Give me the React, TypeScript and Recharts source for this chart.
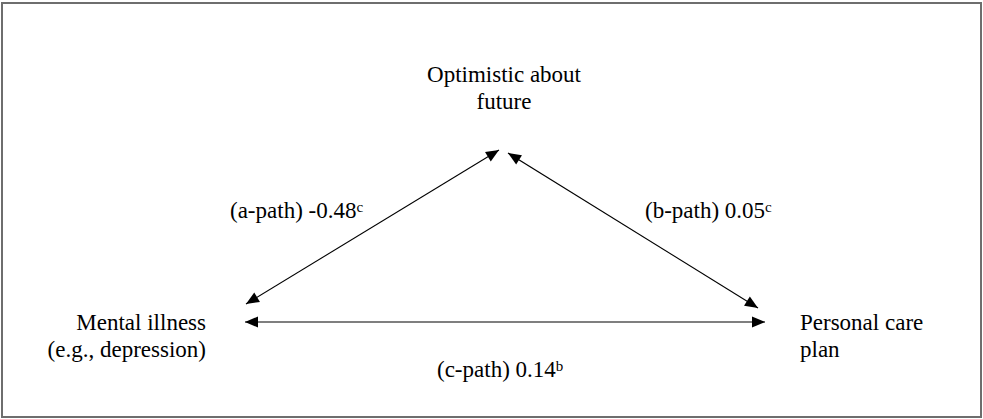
import { ScatterChart, Scatter, XAxis, YAxis, ReferenceArea } from 'recharts';

const W = 983;
const H = 419;

// node labels: top, left, right
const nodeLines = [
  ['Optimistic about', 'future'],
  ['Mental illness', '(e.g., depression)'],
  ['Personal care', 'plan'],
];
const pathNames = ['(a-path)', '(b-path)', '(c-path)'];
const pathCoef = ['-0.48', '0.05', '0.14'];
const pathSig = ['c', 'c', 'b'];

// layout, in plot units (x from left, y from top)
const nodeX = [504, 206, 800];
const nodeY = [82, 330, 330];
const nodeAnchor = ['middle', 'end', 'start'];
const pathLabelX = [230, 645, 437];
const pathLabelY = [218, 218, 377];
// arrow tips for each path: [x1, y1, x2, y2]
const pathEnds = [
  [499, 150, 246, 304],
  [508, 153, 758, 308],
  [245, 322, 765, 322],
];

const textStyle = { fontFamily: "'Liberation Serif', 'DejaVu Serif', serif" };

const nodeData = nodeLines.map((lines, i) => ({
  x: nodeX[i],
  y: nodeY[i],
  lines,
  anchor: nodeAnchor[i],
}));

const labelData = pathNames.map((name, i) => ({
  x: pathLabelX[i],
  y: pathLabelY[i],
  text: `${name} ${pathCoef[i]}`,
  sig: pathSig[i],
}));

const edgeData = pathEnds.map(([x1, y1, x2, y2]) => [
  { x: x1, y: y1, ox: x2, oy: y2 },
  { x: x2, y: y2, ox: x1, oy: y1 },
]);

const Arrowhead = (props: any) => {
  const { cx, cy, payload } = props;
  const dx = payload.x - payload.ox;
  const dy = payload.y - payload.oy;
  const len = Math.sqrt(dx * dx + dy * dy) || 1;
  const ux = dx / len;
  const uy = dy / len;
  const L = 13;
  const hw = 5.5;
  const bx = cx - ux * L;
  const by = cy - uy * L;
  const pts = `${cx},${cy} ${bx - uy * hw},${by + ux * hw} ${bx + uy * hw},${by - ux * hw}`;
  return <polygon points={pts} fill="#000" />;
};

const NodeText = (props: any) => {
  const { cx, cy, payload } = props;
  return (
    <text x={cx} y={cy} textAnchor={payload.anchor} style={textStyle} fontSize={23} fill="#000">
      {payload.lines.map((l: string, i: number) => (
        <tspan key={i} x={cx} dy={i === 0 ? 0 : 27}>
          {l}
        </tspan>
      ))}
    </text>
  );
};

const PathText = (props: any) => {
  const { cx, cy, payload } = props;
  return (
    <text x={cx} y={cy} textAnchor="start" style={textStyle} fontSize={23} fill="#000">
      {payload.text}
      <tspan dy={-6} fontSize={15}>
        {payload.sig}
      </tspan>
    </text>
  );
};

export default function App() {
  return (
    <div style={{ width: W, height: H, fontFamily: "'Liberation Serif', serif" }}>
      <style>{'body{margin:0}'}</style>
      <ScatterChart width={W} height={H} margin={{ top: 0, right: 0, bottom: 0, left: 0 }}>
        <XAxis type="number" dataKey="x" domain={[0, W]} hide />
        <YAxis type="number" dataKey="y" domain={[0, H]} reversed hide />
        <ReferenceArea
          x1={2}
          x2={981}
          y1={3}
          y2={417}
          fill="none"
          fillOpacity={0}
          stroke="#6e6e6e"
          strokeWidth={2}
          ifOverflow="visible"
        />
        {edgeData.map((d, i) => (
          <Scatter
            key={`edge-${i}`}
            data={d}
            line={{ stroke: '#000', strokeWidth: 1.1 }}
            shape={Arrowhead}
            isAnimationActive={false}
          />
        ))}
        <Scatter data={nodeData} shape={NodeText} isAnimationActive={false} />
        <Scatter data={labelData} shape={PathText} isAnimationActive={false} />
      </ScatterChart>
    </div>
  );
}
